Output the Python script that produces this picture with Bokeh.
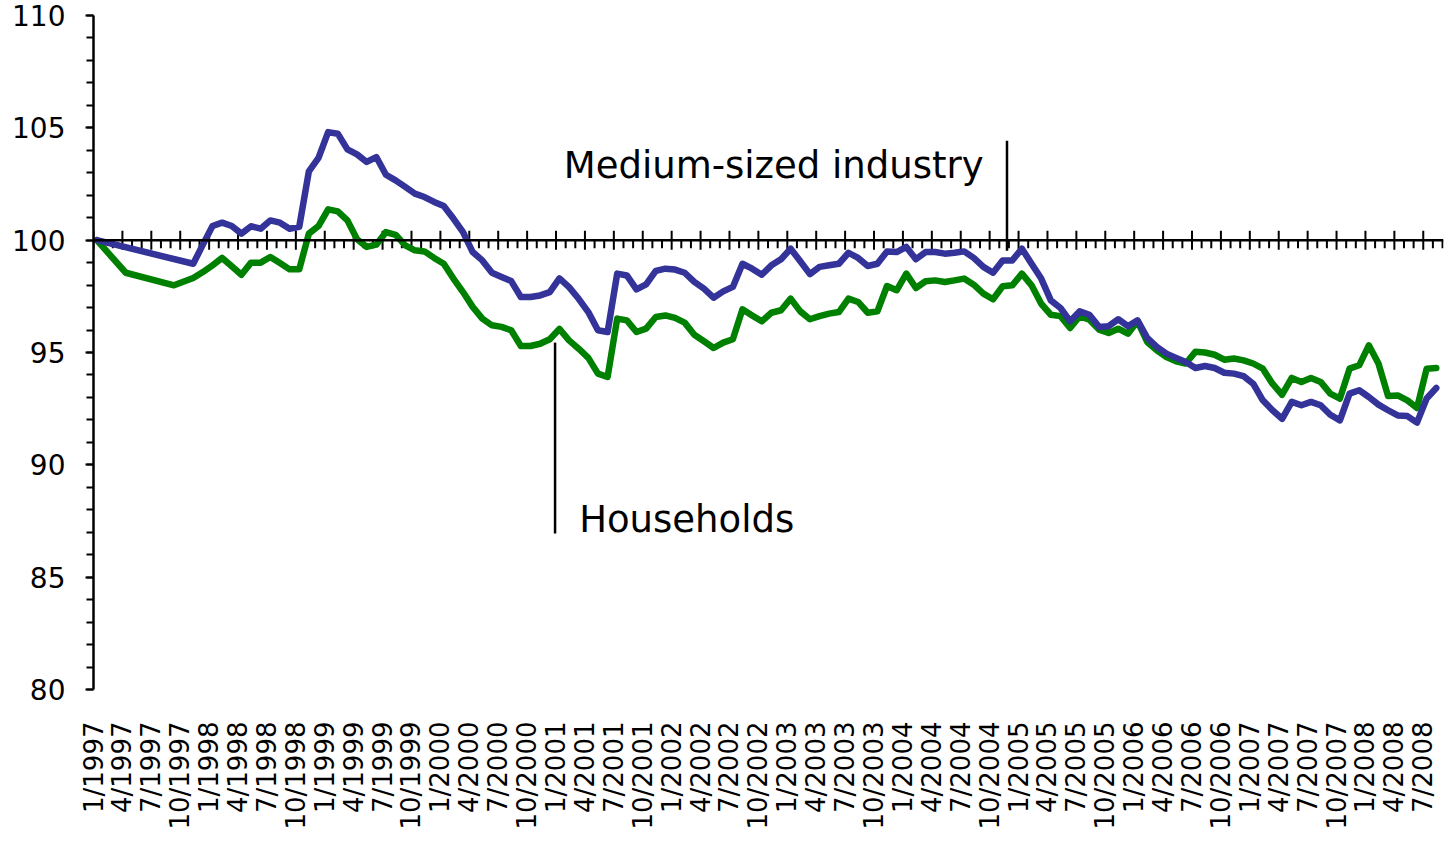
import math
import numpy as np
from bokeh.plotting import figure
from bokeh.models import Range1d, Span, FixedTicker, SingleIntervalTicker
from bokeh.core.properties import value
from bokeh.embed import file_html
from bokeh.resources import INLINE

# ---------------- data (monthly index, Jan 1997 = 100) ----------------
n_months = 140  # Jan 1997 .. Aug 2008

medium_industry = [
    100.0, None, None, None, None, None, None, None, None, None, 98.95, 99.8,
    100.63, 100.78, 100.63, 100.29, 100.62, 100.51, 100.88, 100.78, 100.51, 100.59, 103.06, 103.66,
    104.81, 104.74, 104.04, 103.82, 103.48, 103.70, 102.91, 102.66, 102.37, 102.07, 101.92, 101.70,
    101.52, 100.96, 100.36, 99.47, 99.10, 98.55, 98.36, 98.18, 97.47, 97.47, 97.54, 97.69,
    98.30, 97.91, 97.39, 96.80, 95.99, 95.91, 98.51, 98.43, 97.81, 98.03, 98.63, 98.73,
    98.69, 98.55, 98.14, 97.84, 97.44, 97.72, 97.92, 98.95, 98.73, 98.46, 98.88, 99.15,
    99.62, 99.06, 98.49, 98.81, 98.88, 98.95, 99.44, 99.21, 98.85, 98.95, 99.50, 99.47,
    99.70, 99.15, 99.47, 99.47, 99.40, 99.44, 99.50, 99.21, 98.81, 98.55, 99.10, 99.10,
    99.62, 98.95, 98.29, 97.32, 96.98, 96.39, 96.83, 96.68, 96.14, 96.17, 96.48, 96.17,
    96.43, 95.65, 95.25, 94.95, 94.76, 94.58, 94.31, 94.40, 94.31, 94.10, 94.06, 93.95,
    93.61, 92.87, 92.43, 92.05, 92.80, 92.65, 92.80, 92.65, 92.23, 91.98, 93.17, 93.32,
    93.02, 92.68, 92.43, 92.20, 92.17, 91.88, 92.95, 93.42,
]

households = [
    100.0, None, None, 98.55, None, None, None, None, 97.99, None, 98.32, 98.58,
    98.88, 99.21, 98.84, 98.46, 99.00, 99.00, 99.25, 98.98, 98.70, 98.70, 100.29, 100.63,
    101.37, 101.28, 100.88, 100.04, 99.70, 99.80, 100.36, 100.24, 99.77, 99.55, 99.50, 99.21,
    98.95, 98.29, 97.69, 97.03, 96.51, 96.21, 96.14, 95.99, 95.29, 95.29, 95.39, 95.59,
    96.05, 95.54, 95.17, 94.76, 94.06, 93.91, 96.51, 96.43, 95.91, 96.06, 96.58, 96.65,
    96.54, 96.33, 95.79, 95.50, 95.20, 95.44, 95.59, 96.92, 96.65, 96.39, 96.77, 96.88,
    97.40, 96.83, 96.48, 96.62, 96.73, 96.80, 97.40, 97.25, 96.77, 96.83, 97.96, 97.77,
    98.51, 97.87, 98.17, 98.21, 98.14, 98.21, 98.29, 98.02, 97.62, 97.37, 97.95, 97.99,
    98.51, 97.99, 97.17, 96.68, 96.62, 96.09, 96.62, 96.46, 96.02, 95.87, 96.06, 95.84,
    96.39, 95.47, 95.10, 94.80, 94.61, 94.51, 95.03, 95.00, 94.90, 94.68, 94.73, 94.65,
    94.51, 94.28, 93.61, 93.12, 93.87, 93.69, 93.87, 93.69, 93.17, 92.95, 94.28, 94.43,
    95.32, 94.51, 93.06, 93.09, 92.87, 92.53, 94.28, 94.31,
]

# tick labels every 3 months: 1/1997 ... 7/2008
tick_months = list(range(0, 139, 3))
tick_labels = ["%d/%d" % (m % 12 + 1, 1997 + m // 12) for m in tick_months]

# annotations
annot_texts = ["Medium-sized industry", "Households"]

# ---------------- layout constants ----------------
B_LEFT, B_RIGHT, B_TOP, B_BOTTOM = 93, 2, 15, 146
FRAME_W, FRAME_H = 1350, 674
W = B_LEFT + FRAME_W + B_RIGHT
H = B_TOP + FRAME_H + B_BOTTOM
Y0, Y1 = 80, 110
PX_PER_UNIT = FRAME_H / (Y1 - Y0)
X_END = 140.1
OBS_OFFSET = 0.35  # observations fall a little after the month tick

BLUE = "#333399"
GREEN = "#008000"
FONT = "DejaVu Sans"

p = figure(width=W, height=H, x_range=Range1d(0, X_END), y_range=Range1d(Y0, Y1),
           output_backend="svg", toolbar_location=None,
           min_border_left=B_LEFT, min_border_right=B_RIGHT,
           min_border_top=B_TOP, min_border_bottom=B_BOTTOM)
p.outline_line_color = None
p.grid.visible = False
p.background_fill_color = "white"
p.border_fill_color = "white"

# y axis
ya = p.yaxis[0]
ya.ticker = SingleIntervalTicker(interval=5, num_minor_ticks=5)
ya.axis_line_width = 2.5
ya.axis_line_color = "black"
ya.major_tick_line_width = 2
ya.minor_tick_line_width = 2
ya.major_tick_in = 0
ya.major_tick_out = 8
ya.minor_tick_in = 0
ya.minor_tick_out = 7
ya.major_label_standoff = 20
ya.major_label_text_font = FONT
ya.major_label_text_font_size = "28px"
ya.major_label_text_color = "black"

# x axis (labels only, at bottom)
xa = p.xaxis[0]
xa.ticker = FixedTicker(ticks=tick_months)
xa.major_label_overrides = {m: lab for m, lab in zip(tick_months, tick_labels)}
xa.major_label_orientation = math.pi / 2
xa.axis_line_color = None
xa.major_tick_line_color = None
xa.minor_tick_line_color = None
xa.major_tick_in = 0
xa.major_tick_out = 0
xa.minor_tick_in = 0
xa.minor_tick_out = 0
xa.major_label_standoff = 32
xa.major_label_text_font = FONT
xa.major_label_text_font_size = "26px"
xa.major_label_text_color = "black"

# horizontal axis line crossing at 100
p.add_layout(Span(location=100, dimension="width", line_color="black", line_width=2.5))

# month ticks on the crossing axis
all_months = [m for m in range(0, 141) if m % 3 != 0]
short_len = 8 / PX_PER_UNIT
long_len = 9.5 / PX_PER_UNIT
p.segment(x0=all_months, y0=[100] * len(all_months), x1=all_months,
          y1=[100 - short_len] * len(all_months), line_color="black", line_width=2)
p.segment(x0=tick_months, y0=[100 + long_len] * len(tick_months), x1=tick_months,
          y1=[100 - long_len] * len(tick_months), line_color="black", line_width=2)

# series
def valid(series):
    xs, ys = [], []
    for i, v in enumerate(series):
        if v is not None:
            xs.append(i + OBS_OFFSET)
            ys.append(v)
    return xs, ys

gx, gy = valid(households)
bx, by = valid(medium_industry)
p.line(gx, gy, line_color=GREEN, line_width=6.5, line_join="round", line_cap="round")
p.line(bx, by, line_color=BLUE, line_width=6.5, line_join="round", line_cap="round")

# annotation pointer lines
p.segment(x0=[94.8, 47.9], y0=[104.43, 95.44], x1=[94.8, 47.9], y1=[99.53, 86.94],
          line_color="black", line_width=2.5)
p.text(x=[48.8, 50.4], y=[103.33, 87.57], text=annot_texts,
       text_font=value(FONT), text_font_size="37px", text_color="black",
       text_baseline="alphabetic", text_align="left")

open("out.html", "w").write(file_html(p, INLINE))
